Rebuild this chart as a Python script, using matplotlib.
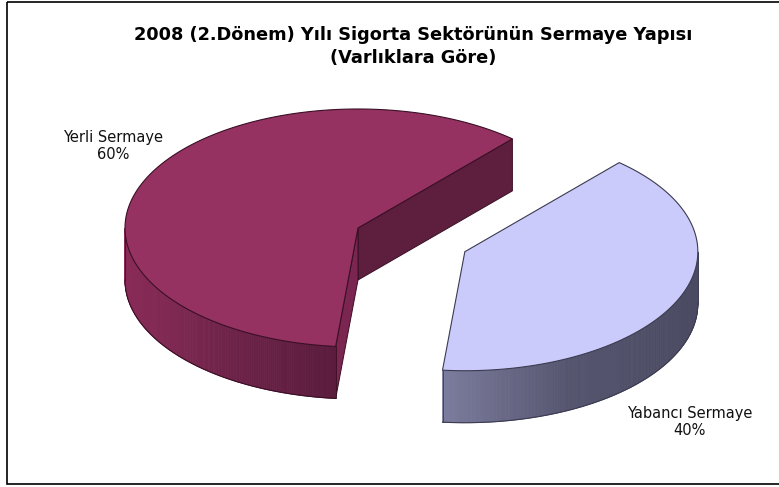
import numpy as np
import matplotlib
matplotlib.use("Agg")
import matplotlib.pyplot as plt
from matplotlib.patches import Polygon, Rectangle
from matplotlib.colors import to_rgb

# --- data -------------------------------------------------------------
title_lines = ["2008 (2.Dönem) Yılı Sigorta Sektörünün Sermaye Yapısı",
               "(Varlıklara Göre)"]
categories = ["Yerli Sermaye", "Yabancı Sermaye"]
shares = [60, 40]
explode = [0.0, 0.5]

# --- styling ----------------------------------------------------------
top_colors = ["#953261", "#cbcbfb"]
wall_stops = [["#8a2b58", "#6e2349", "#5a1c3c"],
              ["#7c7c9e", "#55556f", "#4a4a62"]]
start_face_colors = ["#5e1f3f", "#7a7a98"]
end_face_colors = ["#7a2650", "#8a8aa8"]
edge_colors = ["#3a0f25", "#3a3a50"]
label_xy = [(113, 146), (690, 422)]

W, H = 779, 487
center = (358.0, 228.0)
rx, ry = 233.0, 119.0
depth = 52.0
start_angle = 48.5

fig = plt.figure(figsize=(W / 100, H / 100), dpi=100)
ax = fig.add_axes([0, 0, 1, 1])
ax.set_xlim(0, W)
ax.set_ylim(H, 0)
ax.axis("off")


def point(c, t, dz=0.0):
    r = np.radians(t)
    return (c[0] + rx * np.cos(r), c[1] - ry * np.sin(r) + dz)


def blend(stops, f):
    cols = [np.array(to_rgb(s)) for s in stops]
    f = min(max(f, 0.0), 1.0) * (len(cols) - 1)
    i = min(int(f), len(cols) - 2)
    u = f - i
    return tuple(cols[i] * (1 - u) + cols[i + 1] * u)


total = float(sum(shares))
a = start_angle
for i, v in enumerate(shares):
    a0, a1 = a, a + 360.0 * v / total
    a = a1
    mid = np.radians((a0 + a1) / 2)
    c = (center[0] + explode[i] * rx * np.cos(mid),
         center[1] - explode[i] * ry * np.sin(mid))
    ec = edge_colors[i]

    # side faces along the two radii
    if np.cos(np.radians(a0)) > 0:
        p, q = point(c, a0), point(c, a0, depth)
        ax.add_patch(Polygon([c, p, q, (c[0], c[1] + depth)], closed=True,
                             facecolor=start_face_colors[i], edgecolor=ec,
                             lw=0.7, zorder=2 + 3 * i))
    if np.cos(np.radians(a1)) < 0:
        p, q = point(c, a1), point(c, a1, depth)
        ax.add_patch(Polygon([c, p, q, (c[0], c[1] + depth)], closed=True,
                             facecolor=end_face_colors[i], edgecolor=ec,
                             lw=0.7, zorder=2 + 3 * i))

    # outer rim facing the viewer, shaded left to right
    for k in range(-1, 3):
        lo, hi = max(a0, 180 + 360 * k), min(a1, 360 + 360 * k)
        if hi <= lo:
            continue
        ts = np.linspace(lo, hi, 160)
        xs = [point(c, t)[0] for t in ts]
        x_lo, x_hi = min(xs), max(xs)
        for t_a, t_b in zip(ts[:-1], ts[1:]):
            xm = 0.5 * (point(c, t_a)[0] + point(c, t_b)[0])
            col = blend(wall_stops[i], (xm - x_lo) / max(x_hi - x_lo, 1))
            quad = [point(c, t_a), point(c, t_b),
                    point(c, t_b, depth), point(c, t_a, depth)]
            ax.add_patch(Polygon(quad, closed=True, facecolor=col,
                                 edgecolor=col, lw=0.6, zorder=3 + 3 * i))
        bottom = np.array([point(c, t, depth) for t in ts])
        ax.plot(bottom[:, 0], bottom[:, 1], color=ec, lw=0.8, zorder=3.5 + 3 * i)
        for t in (lo, hi):
            p, q = point(c, t), point(c, t, depth)
            ax.plot([p[0], q[0]], [p[1], q[1]], color=ec, lw=0.6,
                    zorder=3.5 + 3 * i)

    # top face
    ts = np.linspace(a0, a1, 300)
    verts = [c] + [point(c, t) for t in ts]
    ax.add_patch(Polygon(verts, closed=True, facecolor=top_colors[i],
                         edgecolor=ec, lw=0.8, zorder=4 + 3 * i))

    lx, ly = label_xy[i]
    ax.text(lx, ly, f"{categories[i]}\n{v / total:.0%}", ha="center",
            va="center", fontsize=10.5, family="DejaVu Sans",
            linespacing=1.2, color="#111111", zorder=10)

ax.text(413, 35, title_lines[0], ha="center", va="center", fontsize=12.8,
        fontweight="bold", family="DejaVu Sans", zorder=10)
ax.text(413, 58, title_lines[1], ha="center", va="center", fontsize=12.8,
        fontweight="bold", family="DejaVu Sans", zorder=10)

ax.add_patch(Rectangle((7, 1.5), 780, 482, fill=False, edgecolor="black",
                       lw=1.2, zorder=11))

fig.savefig("out.png", dpi=100)
